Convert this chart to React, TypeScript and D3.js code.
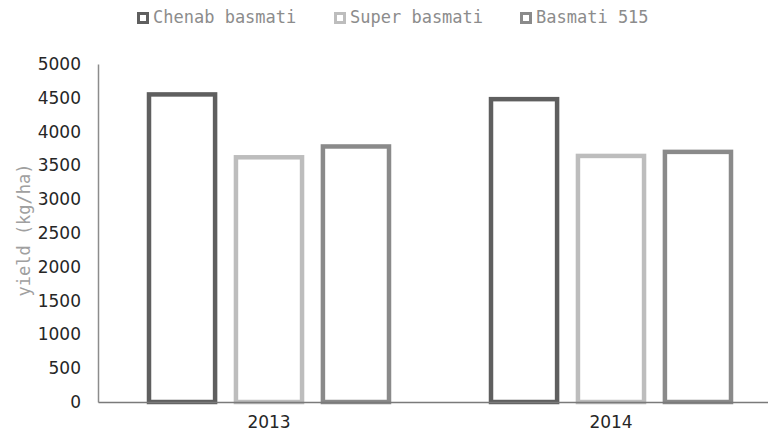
import React, { useEffect, useRef } from 'react';
import * as d3 from 'd3';

const years = ['2013', '2014'];
const series = ['Chenab basmati', 'Super basmati', 'Basmati 515'];
const chenab = [4550, 4480];
const superB = [3620, 3640];
const basmati515 = [3780, 3700];
const yTicks = [0, 500, 1000, 1500, 2000, 2500, 3000, 3500, 4000, 4500, 5000];

const colors = ['#5f5f5f', '#bdbdbd', '#8a8a8a'];

const App = () => {
  const svgRef = useRef<SVGSVGElement>(null);
  const width = 768;
  const height = 432;

  useEffect(() => {
    const values = [chenab, superB, basmati515];
    const svg = d3.select(svgRef.current);
    svg.selectAll('*').remove();

    const x0 = d3.scaleBand().domain(years).range([98, 782]);
    const x1 = d3
      .scaleBand()
      .domain(series)
      .range([51, 291])
      .paddingInner(0.24);
    const y = d3.scaleLinear().domain([0, 5000]).range([402, 64]);

    // bars (outlined, no fill)
    years.forEach((yr, i) => {
      series.forEach((s, j) => {
        const v = values[j][i];
        svg
          .append('rect')
          .attr('x', x0(yr)! + x1(s)!)
          .attr('y', y(v))
          .attr('width', x1.bandwidth())
          .attr('height', y(0) - y(v))
          .attr('fill', 'none')
          .attr('stroke', colors[j])
          .attr('stroke-width', 4.5);
      });
    });

    // y axis
    const yAxis = d3
      .axisLeft(y)
      .tickValues(yTicks)
      .tickFormat(d3.format('d'))
      .tickSize(0)
      .tickPadding(17);
    const gy = svg.append('g').attr('transform', 'translate(98,0)').call(yAxis);
    gy.select('.domain').attr('stroke', '#8c8c8c').attr('stroke-width', 1.5);
    gy.selectAll('text')
      .attr('fill', '#262626')
      .attr('font-family', 'DejaVu Sans')
      .attr('font-size', 17);

    // x axis
    const xAxis = d3.axisBottom(x0).tickSize(0).tickPadding(14);
    const gx = svg.append('g').attr('transform', 'translate(0,402)').call(xAxis);
    gx.select('.domain').attr('stroke', '#7a7a7a').attr('stroke-width', 1.5);
    gx.selectAll('text')
      .attr('fill', '#262626')
      .attr('font-family', 'DejaVu Sans')
      .attr('font-size', 17);

    // y title
    svg
      .append('text')
      .attr('transform', 'translate(25,230) rotate(-90)')
      .attr('text-anchor', 'middle')
      .attr('dominant-baseline', 'middle')
      .attr('fill', '#a0a0a0')
      .attr('font-family', 'DejaVu Sans Mono')
      .attr('font-size', 17)
      .text('yield (kg/ha)');

    // legend
    const legendX = [137, 334, 520];
    series.forEach((s, j) => {
      const g = svg.append('g').attr('transform', `translate(${legendX[j]},18)`);
      g.append('rect')
        .attr('x', 1.5)
        .attr('y', -4.5)
        .attr('width', 9)
        .attr('height', 9)
        .attr('fill', '#fff')
        .attr('stroke', colors[j])
        .attr('stroke-width', 3);
      g.append('text')
        .attr('x', 16)
        .attr('y', 0)
        .attr('dominant-baseline', 'middle')
        .attr('fill', '#8c8c8c')
        .attr('font-family', 'DejaVu Sans Mono')
        .attr('font-size', 17)
        .text(s);
    });
  }, []);

  return (
    <div style={{ position: 'fixed', left: 0, top: 0 }}>
      <svg ref={svgRef} width={width} height={height} style={{ display: 'block', background: '#fff' }} />
    </div>
  );
};

export default App;
